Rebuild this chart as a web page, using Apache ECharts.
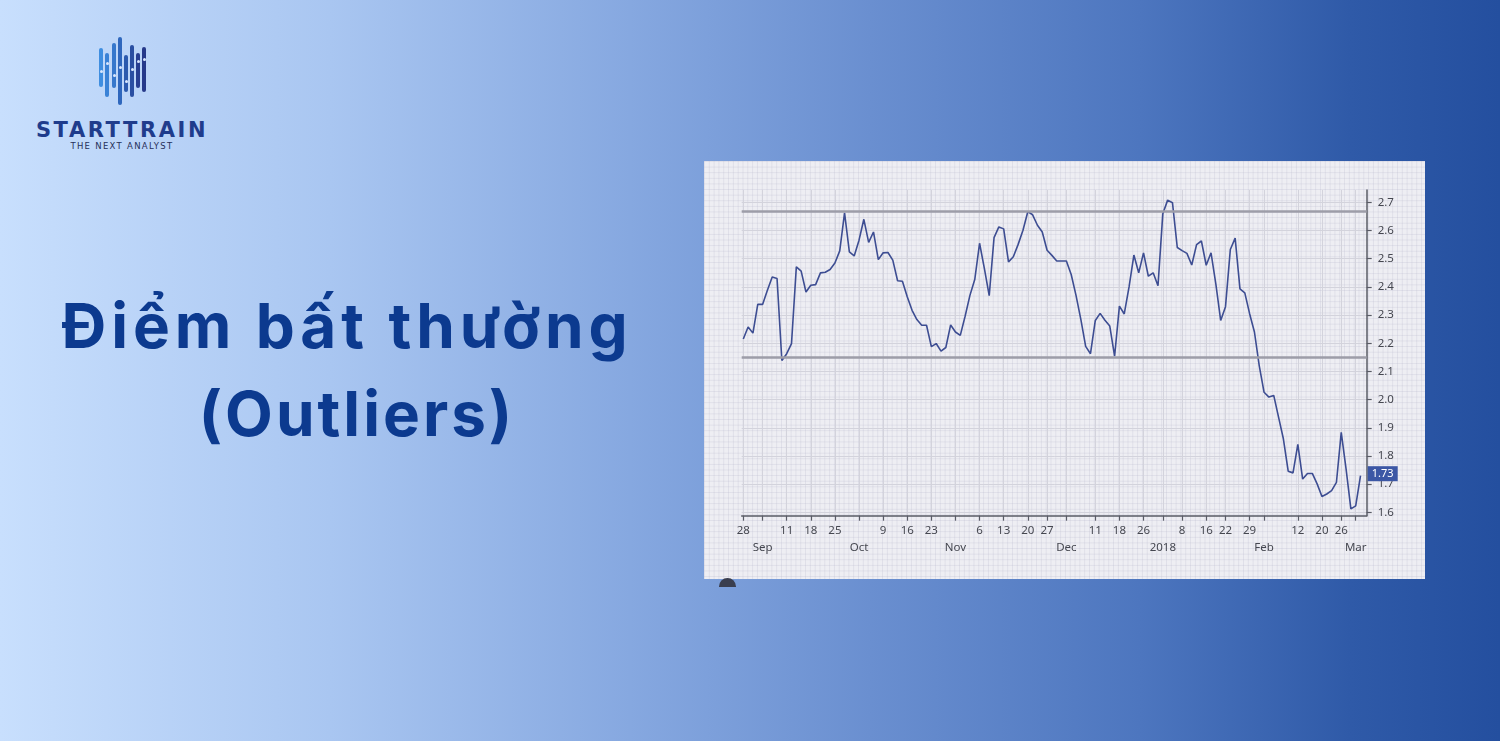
<!DOCTYPE html>
<html>
<head>
<meta charset="utf-8">
<script src="https://cdn.jsdelivr.net/npm/echarts@6/dist/echarts.min.js"></script>
<style>
  html, body { margin:0; padding:0; width:1500px; height:741px; overflow:hidden; }
  body {
    position:relative;
    background: linear-gradient(90deg, #c8dffd 0%, #a9c6f1 22%, #86a8e0 42%, #6a8fd0 58%, #4d76bf 76%, #2f5aa8 90%, #244f9f 100%);
    font-family: "Inter", "Noto Sans", sans-serif;
  }
  .title {
    position:absolute; text-align:center;
    color:#0c3a8f; font-family:"Inter", sans-serif; font-weight:700; font-size:62px; line-height:62px;
    white-space:nowrap;
  }
  #panel {
    position:absolute; left:704px; top:161px; width:721px; height:418px; overflow:hidden;
    background-color:#eeeef3;
    background-image:
      linear-gradient(to right, rgba(185,185,205,0.28) 1px, transparent 1px),
      linear-gradient(to bottom, rgba(185,185,205,0.28) 1px, transparent 1px);
    background-size: 4.82px 5.62px;
  }
  #chart { position:absolute; left:0; top:0; width:721px; height:418px; }
  .bar { position:absolute; width:4px; border-radius:2px; }
  .knob { position:absolute; width:3px; height:3px; border-radius:2px; background:#d8e6fc; margin-left:0.5px; }
  #brand { position:absolute; left:33px; top:118px; width:178px; text-align:center; color:#1f3c8c;
    font-family:"DejaVu Sans", sans-serif; font-weight:bold; font-size:21px; letter-spacing:2.6px; line-height:24px; }
  #tag { position:absolute; left:33px; top:141px; width:178px; text-align:center; color:#26305a;
    font-family:"DejaVu Sans", sans-serif; font-size:8.5px; letter-spacing:1.3px; line-height:10px; }
  #dot { position:absolute; left:719px; top:578px; width:18px; height:9px; overflow:hidden; }
  #dot div { width:17px; height:17px; border-radius:50%; background:#3a3e4e; }
</style>
</head>
<body>
<div id="logo"></div>
<div id="brand">STARTTRAIN</div>
<div id="tag">THE NEXT ANALYST</div>
<div class="title" style="left:0; width:694px; top:295px; letter-spacing:4.9px;">Điểm bất thường</div>
<div class="title" style="left:10px; width:694px; top:383px; letter-spacing:3px;">(Outliers)</div>
<div id="panel"><div id="chart"></div></div>
<div id="dot"><div></div></div>
<script>
// ---- data (trading-day index 0 = 28 Aug 2017) ----
const values = [
  2.215, 2.258, 2.236, 2.338, 2.338, 2.388, 2.435, 2.430, 2.139, 2.163,
  2.199, 2.471, 2.456, 2.382, 2.406, 2.408, 2.450, 2.452, 2.462, 2.485,
  2.528, 2.663, 2.524, 2.510, 2.566, 2.640, 2.558, 2.595, 2.497, 2.521,
  2.522, 2.495, 2.422, 2.420, 2.365, 2.317, 2.284, 2.264, 2.264, 2.188,
  2.199, 2.172, 2.185, 2.265, 2.240, 2.228, 2.296, 2.370, 2.426, 2.555,
  2.465, 2.369, 2.575, 2.613, 2.606, 2.489, 2.507, 2.551, 2.601, 2.667,
  2.656, 2.619, 2.595, 2.530, 2.512, 2.492, 2.492, 2.492, 2.444, 2.370,
  2.285, 2.189, 2.163, 2.281, 2.306, 2.282, 2.261, 2.154, 2.332, 2.304,
  2.400, 2.513, 2.450, 2.521, 2.438, 2.450, 2.404, 2.660, 2.708, 2.699,
  2.540, 2.529, 2.519, 2.478, 2.550, 2.563, 2.477, 2.521, 2.410, 2.281,
  2.330, 2.533, 2.573, 2.393, 2.379, 2.305, 2.240, 2.120, 2.026, 2.009,
  2.015, 1.938, 1.861, 1.746, 1.740, 1.841, 1.718, 1.738, 1.738, 1.701,
  1.656, 1.665, 1.677, 1.706, 1.884, 1.754, 1.612, 1.623, 1.730
];
const upperBand = 2.672;
const lowerBand = 2.145;
const tickIdx = [0,4,9,14,19,24,29,34,39,44,49,54,59,63,67,73,78,83,87,91,96,100,105,108,115,120,124,127];
const tickLabels = ['28','\nSep','11','18','25','\nOct','9','16','23','\nNov','6','13','20','27','\nDec','11','18','26','\n2018','8','16','22','29','\nFeb','12','20','26','\nMar'];
const yTicks = [1.6,1.7,1.8,1.9,2.0,2.1,2.2,2.3,2.4,2.5,2.6,2.7];

// split the two-line tick labels into a day row and a month row
const monthIdx = tickIdx.filter((t,i)=>tickLabels[i].startsWith('\n'));
const labelAt = (v, row) => {
  const i = tickIdx.indexOf(Math.round(v));
  if (i < 0) return '';
  const parts = tickLabels[i].split('\n');
  return row === 0 ? parts[0] : (parts[1] || '');
};

// ---- logo bars (decoration) ----
const logoBars = [
  {x:99, t:48, b:87, c:'#3f8ee0', k:70},
  {x:105, t:53, b:97, c:'#3a82d6', k:62},
  {x:112, t:43, b:88, c:'#3577cc', k:74},
  {x:118, t:37, b:105, c:'#2f67bd', k:66},
  {x:124, t:55, b:92, c:'#2c5aae', k:80},
  {x:130, t:45, b:97, c:'#2a4fa2', k:68},
  {x:136, t:53, b:88, c:'#283f92', k:60},
  {x:142, t:47, b:92, c:'#26398a', k:58}
];
const logo = document.getElementById('logo');
logoBars.forEach(b => {
  const d = document.createElement('div');
  d.className = 'bar';
  d.style.left = b.x + 'px'; d.style.top = b.t + 'px'; d.style.height = (b.b - b.t) + 'px'; d.style.background = b.c;
  logo.appendChild(d);
  const k = document.createElement('div');
  k.className = 'knob'; k.style.left = b.x + 'px'; k.style.top = b.k + 'px';
  logo.appendChild(k);
});

// ---- chart ----
const chart = echarts.init(document.getElementById('chart'), null, {renderer:'canvas'});
const lastIdx = values.length - 1;
const lastVal = values[lastIdx];
const xMin = -0.33, xMax = 129.28;
const axisFont = {color:'#454750', fontSize:11.5, fontFamily:'"Noto Sans", "Open Sans", sans-serif'};
chart.setOption({
  backgroundColor:'transparent',
  animation:false,
  grid:{left:37.7, right:58.3, top:29, bottom:63.3, containLabel:false},
  xAxis:[{
    type:'value', min:xMin, max:xMax,
    axisLine:{show:true, onZero:false, lineStyle:{color:'#5a5c66', width:1.5}},
    axisTick:{show:true, customValues:tickIdx, length:5, lineStyle:{color:'#5a5c66', width:1.2}},
    axisLabel:Object.assign({customValues:tickIdx, margin:9, formatter:(v)=>labelAt(v,0)}, axisFont),
    splitLine:{show:true, lineStyle:{color:'#d3d3dc', width:1}}
  },{
    type:'value', min:xMin, max:xMax, position:'bottom', offset:17,
    axisLine:{show:false}, axisTick:{show:false}, splitLine:{show:false},
    axisLabel:Object.assign({customValues:monthIdx, margin:9, formatter:(v)=>labelAt(v,1)}, axisFont)
  }],
  yAxis:{
    type:'value', position:'right', min:1.588, max:2.744,
    axisLine:{show:true, onZero:false, lineStyle:{color:'#5a5c66', width:1.5}},
    axisTick:{show:true, customValues:yTicks, length:5, lineStyle:{color:'#5a5c66', width:1.2}},
    axisLabel:Object.assign({customValues:yTicks, margin:11, formatter:(v)=>v.toFixed(1)}, axisFont),
    splitLine:{show:true, lineStyle:{color:'#d3d3dc', width:1}}
  },
  series:[{
    type:'line',
    xAxisIndex:0,
    data:values.map((v,i)=>[i,v]),
    symbol:'none',
    lineStyle:{color:'#3d4d92', width:1.6},
    markLine:{
      silent:true, symbol:'none', animation:false,
      label:{show:false},
      lineStyle:{color:'#9d9da8', width:2.6, type:'solid'},
      data:[{yAxis:upperBand},{yAxis:lowerBand}]
    },
    markPoint:{
      silent:true, animation:false,
      symbol:'rect', symbolSize:[30,15], symbolOffset:[16,-2],
      itemStyle:{color:'#3c57a5'},
      label:{show:true, color:'#ffffff', fontSize:11, fontFamily:'"Noto Sans", sans-serif',
        formatter:(p)=>Number(p.value).toFixed(2)},
      data:[{coord:[xMax, lastVal], value:lastVal}]
    }
  }]
});
</script>
</body>
</html>
